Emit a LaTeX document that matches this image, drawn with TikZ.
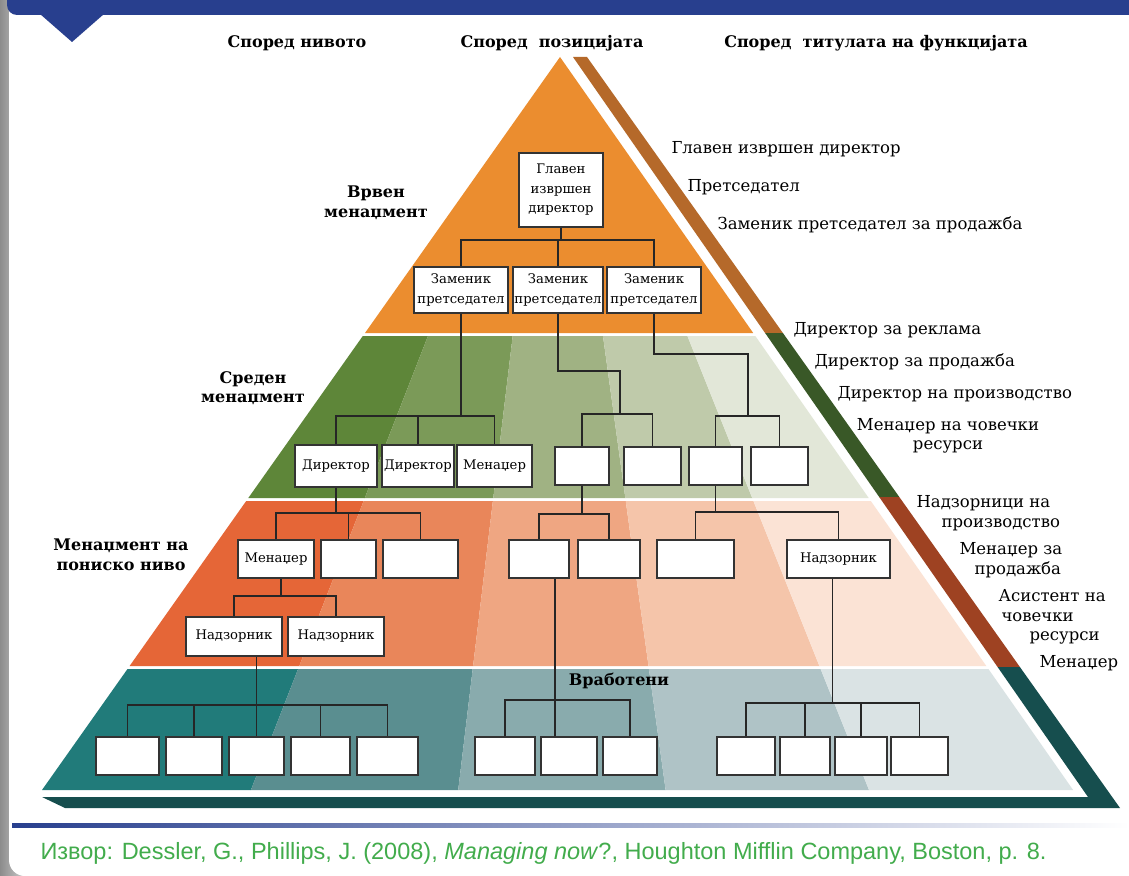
\documentclass[tikz,border=0pt]{standalone}
\usepackage{fontspec}
\setmainfont{DejaVu Serif}
\newfontfamily\notefont{Liberation Sans}
\usetikzlibrary{positioning, calc}

\definecolor{slideBlue}{RGB}{40,63,142}
\definecolor{topOrange}{RGB}{235,141,47}
\definecolor{rimBrown}{RGB}{181,105,42}
\definecolor{rimGreen}{RGB}{57,88,39}
\definecolor{rimRust}{RGB}{158,66,34}
\definecolor{rimTeal}{RGB}{22,78,78}
\definecolor{noteGreen}{RGB}{66,172,76}
% middle management band, dark to light
\definecolor{midA}{RGB}{94,134,57}
\definecolor{midB}{RGB}{123,154,88}
\definecolor{midC}{RGB}{160,178,131}
\definecolor{midD}{RGB}{191,202,170}
\definecolor{midE}{RGB}{226,231,216}
% lower management band
\definecolor{lowA}{RGB}{229,102,55}
\definecolor{lowB}{RGB}{233,134,90}
\definecolor{lowC}{RGB}{239,166,130}
\definecolor{lowD}{RGB}{245,197,170}
\definecolor{lowE}{RGB}{251,227,213}
% staff band
\definecolor{baseA}{RGB}{33,123,122}
\definecolor{baseB}{RGB}{90,142,144}
\definecolor{baseC}{RGB}{137,171,173}
\definecolor{baseD}{RGB}{175,195,198}
\definecolor{baseE}{RGB}{218,227,228}

% five slanted shades of one band (clip it first)
\newcommand\bandfill[5]{%
  \fill[#1] (0,300) -- (s1t) -- (s1b) -- (0,800) -- cycle;
  \fill[#2] (s1t) -- (s2t) -- (s2b) -- (s1b) -- cycle;
  \fill[#3] (s2t) -- (s3t) -- (s3b) -- (s2b) -- cycle;
  \fill[#4] (s3t) -- (s4t) -- (s4b) -- (s3b) -- cycle;
  \fill[#5] (s4t) -- (1129,300) -- (1129,800) -- (s4b) -- cycle;}

\begin{document}
\begin{tikzpicture}[
  x=1pt, y=-1pt,
  box/.style={draw=black!80, line width=1.1pt, fill=white, inner sep=1pt,
    align=center, font=\fontsize{13.2}{19.5}\selectfont},
  link/.style={line width=1.7pt, black!85},
  level/.style={font=\bfseries\fontsize{16}{19.5}\selectfont, align=center},
  title/.style={font=\fontsize{16.5}{19.5}\selectfont, anchor=west, align=left},
  head/.style={font=\bfseries\fontsize{16}{19}\selectfont},
]
\useasboundingbox (0,0) rectangle (1129,875);

% slide
\shade[left color=black!45, right color=black!15] (0,0) rectangle (30,875);
\fill[white, rounded corners=16pt] (9,-30) rectangle (1170,876);
\fill[slideBlue, rounded corners=10pt] (7,-30) rectangle (1170,15);
\fill[slideBlue] (40,14) -- (104,14) -- (72,42) -- cycle;

% slanted dividers
\coordinate (s1t) at (442,300); \coordinate (s1b) at (247,800);
\coordinate (s2t) at (517,300); \coordinate (s2b) at (457,800);
\coordinate (s3t) at (598,300); \coordinate (s3b) at (667,800);
\coordinate (s4t) at (673,300); \coordinate (s4b) at (873,800);

% pyramid bands
\fill[topOrange] (560,57) -- (753.2,333) -- (365,333) -- cycle;
\begin{scope}
  \clip (362.8,336) -- (755.3,336) -- (868.7,498) -- (248.3,498) -- cycle;
  \bandfill{midA}{midB}{midC}{midD}{midE}
\end{scope}
\begin{scope}
  \clip (246.2,501) -- (870.8,501) -- (986.3,666) -- (129.6,666) -- cycle;
  \bandfill{lowA}{lowB}{lowC}{lowD}{lowE}
\end{scope}
\begin{scope}
  \clip (127.5,669) -- (988.4,669) -- (1073.1,790) -- (42,790) -- cycle;
  \bandfill{baseA}{baseB}{baseC}{baseD}{baseE}
\end{scope}

% rim along the right side and the base
\fill[rimBrown] (573,57) -- (587,57) -- (782.9,333) -- (765.1,333) -- cycle;
\fill[rimGreen] (765.1,333) -- (782.9,333) -- (899.3,497) -- (879.2,497) -- cycle;
\fill[rimRust] (879.2,497) -- (899.3,497) -- (1019.9,667) -- (997.6,667) -- cycle;
\fill[rimTeal] (997.6,667) -- (1019.9,667) -- (1120,808) -- (65,808) -- (42,797)
  -- (1088,797) -- cycle;

% column heads
\node[head] (byLevel) at (297,43) {Според нивото};
\node[head] (byPost) at (552,43) {Според\ \ позицијата};
\node[head] (byTitle) at (876,43) {Според\ \ титулата на функцијата};

% levels
\node[level] (topLvl) at (376,203) {Врвен\\менаџмент};
\node[level] (midLvl) at (253,388) {Среден\\менаџмент};
\node[level] (lowLvl) at (121,555) {Менаџмент на\\пониско ниво};
\node[level] (staff) at (619,681) {Вработени};

% job titles
\node[title] (tCeo) at (668,149) {Главен извршен директор};
\node[title] (tChair) at (684,187) {Претседател};
\node[title] (tVice) at (714,225) {Заменик претседател за продажба};
\node[title] (tAd) at (790,330) {Директор за реклама};
\node[title] (tSales) at (811,362) {Директор за продажба};
\node[title] (tProd) at (834,394) {Директор на производство};
\node[title, align=center, anchor=center] (tHr) at (948,436) {Менаџер на човечки\\ресурси};
\node[title] (tSup) at (913,513) {Надзорници на\\\hspace*{25pt}производство};
\node[title] (tSalesMgr) at (956,560) {Менаџер за\\\hspace*{15pt}продажба};
\node[title] (tAsst) at (995,617) {Асистент на\\\hspace*{3pt}човечки\\\hspace*{31pt}ресурси};
\node[title] (tMgr) at (1036,663) {Менаџер};

% chart boxes
\node[box, minimum width=84pt, minimum height=74pt] (ceo) at (561,190) {Главен\\извршен\\директор};
\node[box, minimum width=94pt, minimum height=46pt] (vp1) at (461,290) {Заменик\\претседател};
\node[box, minimum width=90pt, minimum height=46pt] (vp2) at (558,290) {Заменик\\претседател};
\node[box, minimum width=94pt, minimum height=46pt] (vp3) at (654,290) {Заменик\\претседател};

\node[box, minimum width=82pt, minimum height=42pt] (d1) at (336,466) {Директор};
\node[box, minimum width=72pt, minimum height=42pt] (d2) at (418,466) {Директор};
\node[box, minimum width=75pt, minimum height=42pt] (d3) at (494.5,466) {Менаџер};
\node[box, minimum width=54pt, minimum height=38pt] (e1) at (582,466) {};
\node[box, minimum width=57pt, minimum height=38pt] (e2) at (652.5,466) {};
\node[box, minimum width=53pt, minimum height=38pt] (e3) at (715.5,466) {};
\node[box, minimum width=57pt, minimum height=38pt] (e4) at (779.5,466) {};

\node[box, minimum width=76pt, minimum height=38pt] (m1) at (276,559) {Менаџер};
\node[box, minimum width=55pt, minimum height=38pt] (m2) at (348.5,559) {};
\node[box, minimum width=75pt, minimum height=38pt] (m3) at (420.5,559) {};
\node[box, minimum width=60pt, minimum height=38pt] (f1) at (539,559) {};
\node[box, minimum width=62pt, minimum height=38pt] (f2) at (609,559) {};
\node[box, minimum width=77pt, minimum height=38pt] (f3) at (695.5,559) {};
\node[box, minimum width=103pt, minimum height=38pt] (f4) at (838.5,559) {Надзорник};

\node[box, minimum width=96pt, minimum height=39pt] (s1) at (234,636.5) {Надзорник};
\node[box, minimum width=96pt, minimum height=39pt] (s2) at (336,636.5) {Надзорник};

\node[box, minimum width=63pt, minimum height=38pt] (w1) at (127.5,756) {};
\node[box, minimum width=56pt, minimum height=38pt] (w2) at (194,756) {};
\node[box, minimum width=55pt, minimum height=38pt] (w3) at (256.5,756) {};
\node[box, minimum width=59pt, minimum height=38pt] (w4) at (320.5,756) {};
\node[box, minimum width=61pt, minimum height=38pt] (w5) at (387.5,756) {};
\node[box, minimum width=60pt, minimum height=38pt] (w6) at (505,756) {};
\node[box, minimum width=56pt, minimum height=38pt] (w7) at (569,756) {};
\node[box, minimum width=54pt, minimum height=38pt] (w8) at (630,756) {};
\node[box, minimum width=58pt, minimum height=38pt] (w9) at (746,756) {};
\node[box, minimum width=50pt, minimum height=38pt] (w10) at (805,756) {};
\node[box, minimum width=52pt, minimum height=38pt] (w11) at (861,756) {};
\node[box, minimum width=57pt, minimum height=38pt] (w12) at (919.5,756) {};

% bus levels
\coordinate (busTop) at (0,240);
\coordinate (busDir) at (0,416);
\coordinate (kneeB) at (620,371);
\coordinate (busB) at (0,414);
\coordinate (kneeC) at (748,354);
\coordinate (busC) at (0,416);
\coordinate (busMgr) at (0,513);
\coordinate (busF) at (0,514);
\coordinate (busG) at (0,512);
\coordinate (busSup) at (0,596);
\coordinate (busW1) at (0,705);
\coordinate (busW2) at (0,700);
\coordinate (busW3) at (0,703);

% reporting lines
\draw[link] (ceo.south) -- (ceo.south |- busTop);
\draw[link] (vp1.north) |- (vp3.north |- busTop) -- (vp3.north);
\draw[link] (vp2.north) -- (vp2.north |- busTop);

\draw[link] (vp1.south) -- (vp1.south |- busDir);
\draw[link] (d1.north) |- (d3.north |- busDir) -- (d3.north);
\draw[link] (d2.north) -- (d2.north |- busDir);

\draw[link] (vp2.south) |- (kneeB) -- (kneeB |- busB);
\draw[link] (e1.north) |- (e2.north |- busB) -- (e2.north);

\draw[link] (vp3.south) |- (kneeC) -- (kneeC |- busC);
\draw[link] (e3.north) |- (e4.north |- busC) -- (e4.north);

\draw[link] (d1.south) -- (d1.south |- busMgr);
\draw[link] (m1.north) |- (m3.north |- busMgr) -- (m3.north);
\draw[link] (m2.north) -- (m2.north |- busMgr);

\draw[link] (e1.south) -- (e1.south |- busF);
\draw[link] (f1.north) |- (f2.north |- busF) -- (f2.north);

\draw[link] (e3.south) -- (e3.south |- busG);
\draw[link] (f3.north) |- (f4.north |- busG) -- (f4.north);

\draw[link] ([xshift=5pt]m1.south) -- ([xshift=5pt]m1.south |- busSup);
\draw[link] (s1.north) |- (s2.north |- busSup) -- (s2.north);

\draw[link] (w3.north) -- (w3.north |- s1.south);
\draw[link] (w1.north) |- (w5.north |- busW1) -- (w5.north);
\draw[link] (w2.north) -- (w2.north |- busW1);
\draw[link] (w4.north) -- (w4.north |- busW1);

\draw[link] ([xshift=-14pt]w7.north) -- ([xshift=-14pt]w7.north |- f1.south);
\draw[link] (w6.north) |- (w8.north |- busW2) -- (w8.north);

\draw[link] ([xshift=-6pt]f4.south) -- ([xshift=-6pt]f4.south |- busW3);
\draw[link] (w9.north) |- (w12.north |- busW3) -- (w12.north);
\draw[link] (w10.north) -- (w10.north |- busW3);
\draw[link] (w11.north) -- (w11.north |- busW3);

% source line
\shade[left color=slideBlue, middle color=slideBlue!45, right color=white] (12,823) rectangle (1129,827);
\node[anchor=west, text=noteGreen, font=\notefont\fontsize{23.5}{26}\selectfont] (source) at (37,853)
  {Извор: Dessler, G., Phillips, J. (2008), \textit{Managing now}?, Houghton Mifflin Company, Boston, p. 8.};
\end{tikzpicture}
\end{document}
